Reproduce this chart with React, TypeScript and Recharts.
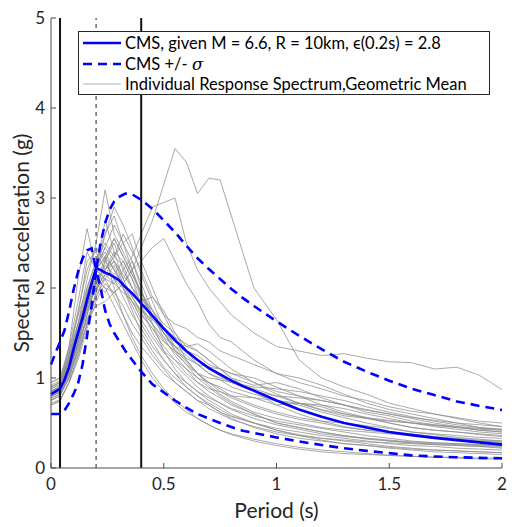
import React from "react";
import { LineChart, Line, XAxis, YAxis, ReferenceLine } from "recharts";

// periods (s) at which the individual ground-motion spectra are sampled
const periods = [
  0, 0.04, 0.08, 0.12, 0.16, 0.2, 0.24, 0.28, 0.32, 0.36, 0.4, 0.45, 0.5, 0.55, 0.6, 0.65,
  0.7, 0.75, 0.8, 0.9, 1.0, 1.1, 1.2, 1.3, 1.4, 1.5, 1.6, 1.7, 1.8, 1.9, 2.0,
];

// individual response spectra, geometric mean (g)
const records = [
  [0.8, 0.85, 1.1, 1.4, 1.65, 1.8, 1.85, 1.95, 2.05, 2.2, 2.45, 2.75, 3.15, 3.55, 3.4, 3.05, 3.22, 3.2, 2.8, 2.0, 1.65, 1.2, 1.0, 0.9, 0.82, 0.72, 0.66, 0.6, 0.55, 0.5, 0.46],
  [0.85, 0.9, 1.2, 1.5, 1.8, 2.0, 2.1, 2.05, 2.2, 2.35, 2.6, 2.9, 2.95, 3.0, 2.5, 2.2, 2.0, 1.85, 1.7, 1.5, 1.35, 1.3, 1.25, 1.27, 1.22, 1.18, 1.17, 1.1, 1.12, 1.03, 0.87],
  [0.9, 0.95, 1.25, 1.6, 1.9, 2.1, 2.0, 1.95, 2.05, 2.2, 2.3, 2.45, 2.55, 2.3, 2.05, 1.85, 1.6, 1.45, 1.4, 1.2, 1.05, 0.95, 0.88, 0.8, 0.75, 0.68, 0.63, 0.6, 0.56, 0.52, 0.5],
  [0.85, 0.9, 1.35, 2.1, 2.66, 2.2, 2.1, 1.9, 1.7, 1.5, 1.35, 1.2, 1.05, 0.95, 0.85, 0.75, 0.7, 0.62, 0.57, 0.5, 0.42, 0.37, 0.33, 0.3, 0.27, 0.24, 0.22, 0.2, 0.19, 0.18, 0.17],
  [0.8, 0.85, 1.2, 1.6, 2.1, 2.5, 3.09, 2.6, 2.4, 2.2, 1.9, 1.7, 1.45, 1.25, 1.1, 0.95, 0.85, 0.78, 0.7, 0.6, 0.5, 0.45, 0.4, 0.36, 0.32, 0.3, 0.28, 0.26, 0.25, 0.24, 0.22],
  [0.75, 0.8, 1.05, 1.4, 1.8, 2.2, 2.75, 2.4, 2.1, 2.3, 2.0, 1.6, 1.3, 1.1, 0.95, 0.85, 0.75, 0.68, 0.6, 0.5, 0.42, 0.36, 0.31, 0.27, 0.25, 0.22, 0.2, 0.18, 0.17, 0.16, 0.15],
  [0.95, 1.0, 1.3, 1.7, 2.0, 2.3, 2.6, 2.8, 2.5, 2.2, 1.95, 1.75, 1.6, 1.5, 1.35, 1.3, 1.2, 1.1, 1.05, 0.95, 0.85, 0.8, 0.75, 0.7, 0.64, 0.6, 0.55, 0.5, 0.46, 0.42, 0.4],
  [0.7, 0.75, 0.95, 1.25, 1.6, 1.95, 2.2, 2.35, 2.6, 2.4, 2.2, 1.9, 1.7, 1.6, 1.55, 1.45, 1.4, 1.3, 1.25, 1.15, 1.05, 1.0, 0.92, 0.82, 0.72, 0.65, 0.6, 0.55, 0.5, 0.45, 0.42],
  [0.88, 0.92, 1.2, 1.55, 1.9, 2.25, 2.4, 2.2, 2.0, 1.8, 1.6, 1.4, 1.2, 1.05, 0.9, 0.8, 0.7, 0.62, 0.55, 0.45, 0.38, 0.33, 0.3, 0.27, 0.25, 0.23, 0.21, 0.2, 0.19, 0.18, 0.17],
  [0.82, 0.86, 1.1, 1.45, 1.75, 2.0, 2.3, 2.5, 2.2, 2.0, 1.85, 1.9, 1.75, 1.5, 1.3, 1.15, 1.05, 0.98, 0.9, 0.82, 0.75, 0.7, 0.62, 0.56, 0.5, 0.45, 0.4, 0.37, 0.34, 0.32, 0.3],
  [0.78, 0.82, 1.0, 1.3, 1.7, 2.1, 2.2, 2.4, 2.3, 2.1, 1.8, 1.5, 1.3, 1.2, 1.1, 1.0, 0.95, 0.9, 0.85, 0.78, 0.7, 0.72, 0.68, 0.6, 0.55, 0.5, 0.45, 0.42, 0.4, 0.37, 0.35],
  [0.9, 0.95, 1.3, 1.75, 2.2, 2.45, 2.3, 2.1, 1.9, 1.7, 1.55, 1.35, 1.2, 1.05, 0.95, 0.85, 0.78, 0.72, 0.66, 0.58, 0.52, 0.48, 0.44, 0.4, 0.36, 0.33, 0.3, 0.28, 0.27, 0.26, 0.25],
  [0.85, 0.9, 1.15, 1.5, 1.85, 2.15, 2.6, 2.9, 2.7, 2.45, 2.15, 1.85, 1.55, 1.35, 1.2, 1.05, 0.95, 0.85, 0.78, 0.68, 0.6, 0.54, 0.5, 0.45, 0.42, 0.4, 0.38, 0.35, 0.33, 0.31, 0.3],
  [0.8, 0.85, 1.1, 1.45, 1.8, 2.1, 2.0, 1.8, 1.6, 1.4, 1.2, 1.0, 0.85, 0.72, 0.62, 0.55, 0.48, 0.42, 0.38, 0.32, 0.27, 0.23, 0.2, 0.18, 0.16, 0.14, 0.13, 0.12, 0.11, 0.1, 0.1],
  [0.92, 0.97, 1.25, 1.6, 2.0, 2.3, 2.5, 2.35, 2.25, 2.0, 1.9, 1.75, 1.55, 1.4, 1.3, 1.25, 1.15, 1.1, 1.0, 0.92, 0.95, 0.88, 0.78, 0.7, 0.62, 0.58, 0.52, 0.48, 0.45, 0.43, 0.42],
  [0.75, 0.8, 1.0, 1.35, 1.65, 1.9, 2.15, 2.3, 2.1, 1.9, 1.75, 1.6, 1.45, 1.35, 1.25, 1.15, 1.05, 1.0, 0.95, 0.9, 0.88, 0.85, 0.8, 0.75, 0.68, 0.62, 0.57, 0.52, 0.48, 0.45, 0.43],
  [0.85, 0.9, 1.2, 1.5, 1.95, 2.2, 2.45, 2.7, 2.5, 2.6, 2.3, 2.0, 1.7, 1.45, 1.2, 1.05, 0.92, 0.82, 0.74, 0.62, 0.55, 0.5, 0.45, 0.42, 0.4, 0.38, 0.36, 0.34, 0.32, 0.3, 0.28],
  [0.7, 0.74, 0.95, 1.2, 1.55, 1.85, 2.05, 1.95, 1.8, 1.6, 1.45, 1.25, 1.1, 0.95, 0.85, 0.75, 0.66, 0.6, 0.54, 0.46, 0.4, 0.36, 0.33, 0.31, 0.29, 0.28, 0.27, 0.26, 0.25, 0.24, 0.23],
  [0.95, 1.0, 1.35, 1.85, 2.4, 2.2, 2.35, 2.55, 2.35, 2.15, 1.95, 1.7, 1.5, 1.32, 1.18, 1.05, 0.95, 0.88, 0.8, 0.7, 0.62, 0.56, 0.52, 0.5, 0.47, 0.44, 0.4, 0.38, 0.36, 0.34, 0.33],
  [0.8, 0.84, 1.05, 1.4, 1.75, 2.05, 2.25, 2.15, 2.3, 2.1, 1.9, 1.65, 1.5, 1.4, 1.35, 1.38, 1.3, 1.2, 1.1, 0.95, 0.82, 0.72, 0.64, 0.58, 0.55, 0.52, 0.5, 0.48, 0.46, 0.44, 0.43],
  [0.85, 0.88, 1.1, 1.4, 1.8, 2.0, 2.15, 2.05, 1.95, 1.85, 1.7, 1.55, 1.35, 1.2, 1.05, 0.95, 0.88, 0.85, 0.8, 0.78, 0.75, 0.72, 0.7, 0.66, 0.6, 0.55, 0.5, 0.46, 0.43, 0.4, 0.38],
  [0.78, 0.82, 1.0, 1.3, 1.6, 1.9, 2.1, 2.25, 2.0, 1.75, 1.5, 1.3, 1.12, 1.0, 0.9, 0.8, 0.72, 0.65, 0.58, 0.5, 0.44, 0.4, 0.36, 0.33, 0.3, 0.27, 0.25, 0.24, 0.22, 0.21, 0.2],
  [0.88, 0.93, 1.25, 1.7, 2.3, 2.4, 2.2, 2.3, 2.15, 2.0, 1.8, 1.6, 1.42, 1.28, 1.15, 1.05, 1.0, 0.98, 0.95, 0.88, 0.8, 0.72, 0.65, 0.6, 0.56, 0.53, 0.5, 0.47, 0.45, 0.42, 0.4],
  [0.72, 0.76, 0.95, 1.25, 1.6, 1.95, 2.3, 2.55, 2.35, 2.15, 1.95, 1.7, 1.5, 1.35, 1.3, 1.2, 1.1, 1.02, 0.95, 0.85, 0.8, 0.78, 0.75, 0.7, 0.65, 0.6, 0.56, 0.53, 0.5, 0.48, 0.46],
  [0.9, 0.95, 1.2, 1.55, 1.95, 2.25, 2.45, 2.3, 2.05, 1.85, 1.65, 1.45, 1.28, 1.15, 1.02, 0.9, 0.8, 0.72, 0.65, 0.55, 0.48, 0.43, 0.38, 0.35, 0.33, 0.3, 0.28, 0.27, 0.26, 0.25, 0.24],
  [0.82, 0.86, 1.08, 1.4, 1.8, 2.1, 2.2, 2.35, 2.5, 2.3, 2.05, 1.75, 1.5, 1.3, 1.15, 1.0, 0.9, 0.8, 0.72, 0.6, 0.5, 0.45, 0.4, 0.36, 0.33, 0.31, 0.29, 0.28, 0.27, 0.26, 0.25],
  [0.86, 0.9, 1.15, 1.5, 1.85, 2.05, 1.95, 2.1, 2.0, 1.85, 1.75, 1.65, 1.55, 1.45, 1.38, 1.3, 1.2, 1.1, 1.0, 0.85, 0.7, 0.6, 0.52, 0.46, 0.42, 0.39, 0.36, 0.34, 0.32, 0.3, 0.29],
  [0.76, 0.8, 1.02, 1.35, 1.7, 2.05, 2.35, 2.2, 2.05, 1.9, 1.72, 1.55, 1.4, 1.3, 1.22, 1.15, 1.12, 1.1, 1.05, 1.0, 0.9, 0.8, 0.7, 0.62, 0.56, 0.5, 0.45, 0.42, 0.4, 0.38, 0.36],
  [0.8, 0.84, 1.05, 1.4, 1.8, 2.2, 2.35, 2.0, 1.7, 1.45, 1.25, 1.05, 0.88, 0.75, 0.65, 0.55, 0.48, 0.42, 0.37, 0.3, 0.25, 0.21, 0.18, 0.16, 0.15, 0.14, 0.13, 0.12, 0.12, 0.11, 0.11],
];

// conditional mean spectrum and +/- sigma curves
const cmsPeriods = [
  0, 0.02, 0.04, 0.06, 0.08, 0.1, 0.12, 0.14, 0.16, 0.18, 0.2, 0.22, 0.24, 0.26, 0.28, 0.3,
  0.33, 0.36, 0.4, 0.45, 0.5, 0.55, 0.6, 0.65, 0.7, 0.75, 0.8, 0.85, 0.9, 1.0, 1.1, 1.2, 1.3,
  1.4, 1.5, 1.6, 1.7, 1.8, 1.9, 2.0,
];
const cmsMean = [
  0.82, 0.85, 0.88, 0.98, 1.12, 1.32, 1.5, 1.67, 1.87, 2.05, 2.22, 2.2, 2.17, 2.15, 2.12, 2.09,
  2.01, 1.94, 1.83, 1.69, 1.55, 1.42, 1.3, 1.2, 1.11, 1.04, 0.97, 0.91, 0.86, 0.75, 0.65, 0.57,
  0.5, 0.45, 0.4, 0.365, 0.335, 0.31, 0.285, 0.26,
];
const cmsUpper = [
  1.15, 1.28, 1.4, 1.53, 1.74, 1.98, 2.18, 2.33, 2.42, 2.44, 2.2, 2.5, 2.72, 2.87, 2.96, 3.01,
  3.05, 3.04, 2.98, 2.88, 2.75, 2.62, 2.47, 2.33, 2.21, 2.1, 1.99, 1.89, 1.8, 1.63, 1.47, 1.32,
  1.18, 1.07, 0.97, 0.88, 0.81, 0.74, 0.69, 0.645,
];
const cmsLower = [
  0.6, 0.6, 0.6, 0.64, 0.72, 0.82, 0.94, 1.15, 1.47, 1.8, 2.2, 2.0, 1.75, 1.6, 1.5, 1.42,
  1.3, 1.2, 1.07, 0.93, 0.84, 0.75, 0.67, 0.6, 0.55, 0.5, 0.455, 0.415, 0.39, 0.34, 0.295,
  0.255, 0.22, 0.19, 0.165, 0.14, 0.128, 0.12, 0.113, 0.108,
];

const xTicks = [0, 0.5, 1, 1.5, 2];
const yTicks = [0, 1, 2, 3, 4, 5];
const solidMarkers = [0.04, 0.4];
const dottedMarker = 0.2;

const grayRows = periods.map((T, i) => {
  const row: Record<string, number> = { T };
  records.forEach((r, k) => (row["r" + k] = r[i]));
  return row;
});

const cmsRows = cmsPeriods.map((T, i) => ({
  T,
  mean: cmsMean[i],
  upper: cmsUpper[i],
  lower: cmsLower[i],
}));

const FONT = "Lato, 'Open Sans', sans-serif";
const AXIS = "#4a4a4a";
const TEXT = "#262626";
const BLUE = "#0000ff";

function YTitle(props: any) {
  const vb = props.viewBox || {};
  const cx = vb.x + 20;
  const cy = vb.y + vb.height / 2;
  return (
    <text
      x={cx}
      y={cy}
      transform={`rotate(-90 ${cx} ${cy})`}
      textAnchor="middle"
      dominantBaseline="central"
      fontSize={21}
      fontFamily={FONT}
      fill={TEXT}
    >
      Spectral acceleration (g)
    </text>
  );
}

function LegendBox() {
  const items = [
    { label: <>CMS, given M = 6.6, R = 10km, ϵ(0.2s) = 2.8</>, stroke: BLUE, width: 2.5, dash: undefined },
    { label: <>CMS +/- <i style={{ fontFamily: "'DejaVu Serif', serif" }}>σ</i></>, stroke: BLUE, width: 2.5, dash: "9 6" },
    { label: <>Individual Response Spectrum,Geometric Mean</>, stroke: "#b0b0b0", width: 1, dash: undefined },
  ];
  return (
    <div
      style={{
        position: "absolute",
        left: 78,
        top: 31,
        width: 412,
        height: 64,
        boxSizing: "border-box",
        border: `1px solid ${TEXT}`,
        background: "#fff",
        fontFamily: FONT,
        fontSize: 16.5,
        color: "#000",
        paddingTop: 1,
      }}
    >
      {items.map((it, i) => (
        <div key={i} style={{ display: "flex", alignItems: "center", height: 20.5, whiteSpace: "nowrap" }}>
          <svg width={46} height={10} style={{ flex: "none" }}>
            <line x1={4} x2={42} y1={5} y2={5} stroke={it.stroke} strokeWidth={it.width} strokeDasharray={it.dash} />
          </svg>
          <span>{it.label}</span>
        </div>
      ))}
    </div>
  );
}

export default function App() {
  return (
    <div style={{ position: "absolute", left: 0, top: 0, width: 529, height: 527, background: "#fff" }}>
      <LineChart width={529} height={527} data={grayRows} margin={{ top: 18, right: 27, left: 0, bottom: 0 }}>
        <XAxis
          dataKey="T"
          type="number"
          domain={[0, 2]}
          ticks={xTicks}
          height={59}
          stroke={AXIS}
          tickSize={-5}
          tickMargin={15}
          tick={{ fontSize: 17, fill: TEXT, fontFamily: FONT }}
          tickFormatter={(v: number) => String(v)}
          label={{ value: "Period (s)", position: "insideBottom", offset: 9, fontSize: 21, fill: TEXT, fontFamily: FONT }}
        />
        <XAxis
          xAxisId="top"
          orientation="top"
          type="number"
          domain={[0, 2]}
          ticks={xTicks}
          height={0}
          stroke={AXIS}
          tickSize={-5}
          tick={false}
        />
        <YAxis
          type="number"
          domain={[0, 5]}
          ticks={yTicks}
          width={51}
          stroke={AXIS}
          tickSize={-5}
          tickMargin={11}
          tick={{ fontSize: 17, fill: TEXT, fontFamily: FONT }}
          label={<YTitle />}
        />
        <YAxis
          yAxisId="right"
          orientation="right"
          type="number"
          domain={[0, 5]}
          ticks={yTicks}
          width={0}
          stroke={AXIS}
          tickSize={-5}
          tick={false}
        />
        {records.map((_, k) => (
          <Line
            key={k}
            dataKey={"r" + k}
            type="linear"
            stroke="#8e8e8e"
            strokeOpacity={0.85}
            strokeWidth={0.9}
            dot={false}
            isAnimationActive={false}
          />
        ))}
        {solidMarkers.map((p) => (
          <ReferenceLine key={p} x={p} stroke="#111" strokeWidth={2} />
        ))}
        <ReferenceLine x={dottedMarker} stroke="#555" strokeWidth={1.3} strokeDasharray="4 4" />
        <Line data={cmsRows} dataKey="upper" type="linear" stroke={BLUE} strokeWidth={2.6} strokeDasharray="9 6" dot={false} isAnimationActive={false} />
        <Line data={cmsRows} dataKey="lower" type="linear" stroke={BLUE} strokeWidth={2.6} strokeDasharray="9 6" dot={false} isAnimationActive={false} />
        <Line data={cmsRows} dataKey="mean" type="linear" stroke={BLUE} strokeWidth={2.6} dot={false} isAnimationActive={false} />
      </LineChart>
      <LegendBox />
    </div>
  );
}
